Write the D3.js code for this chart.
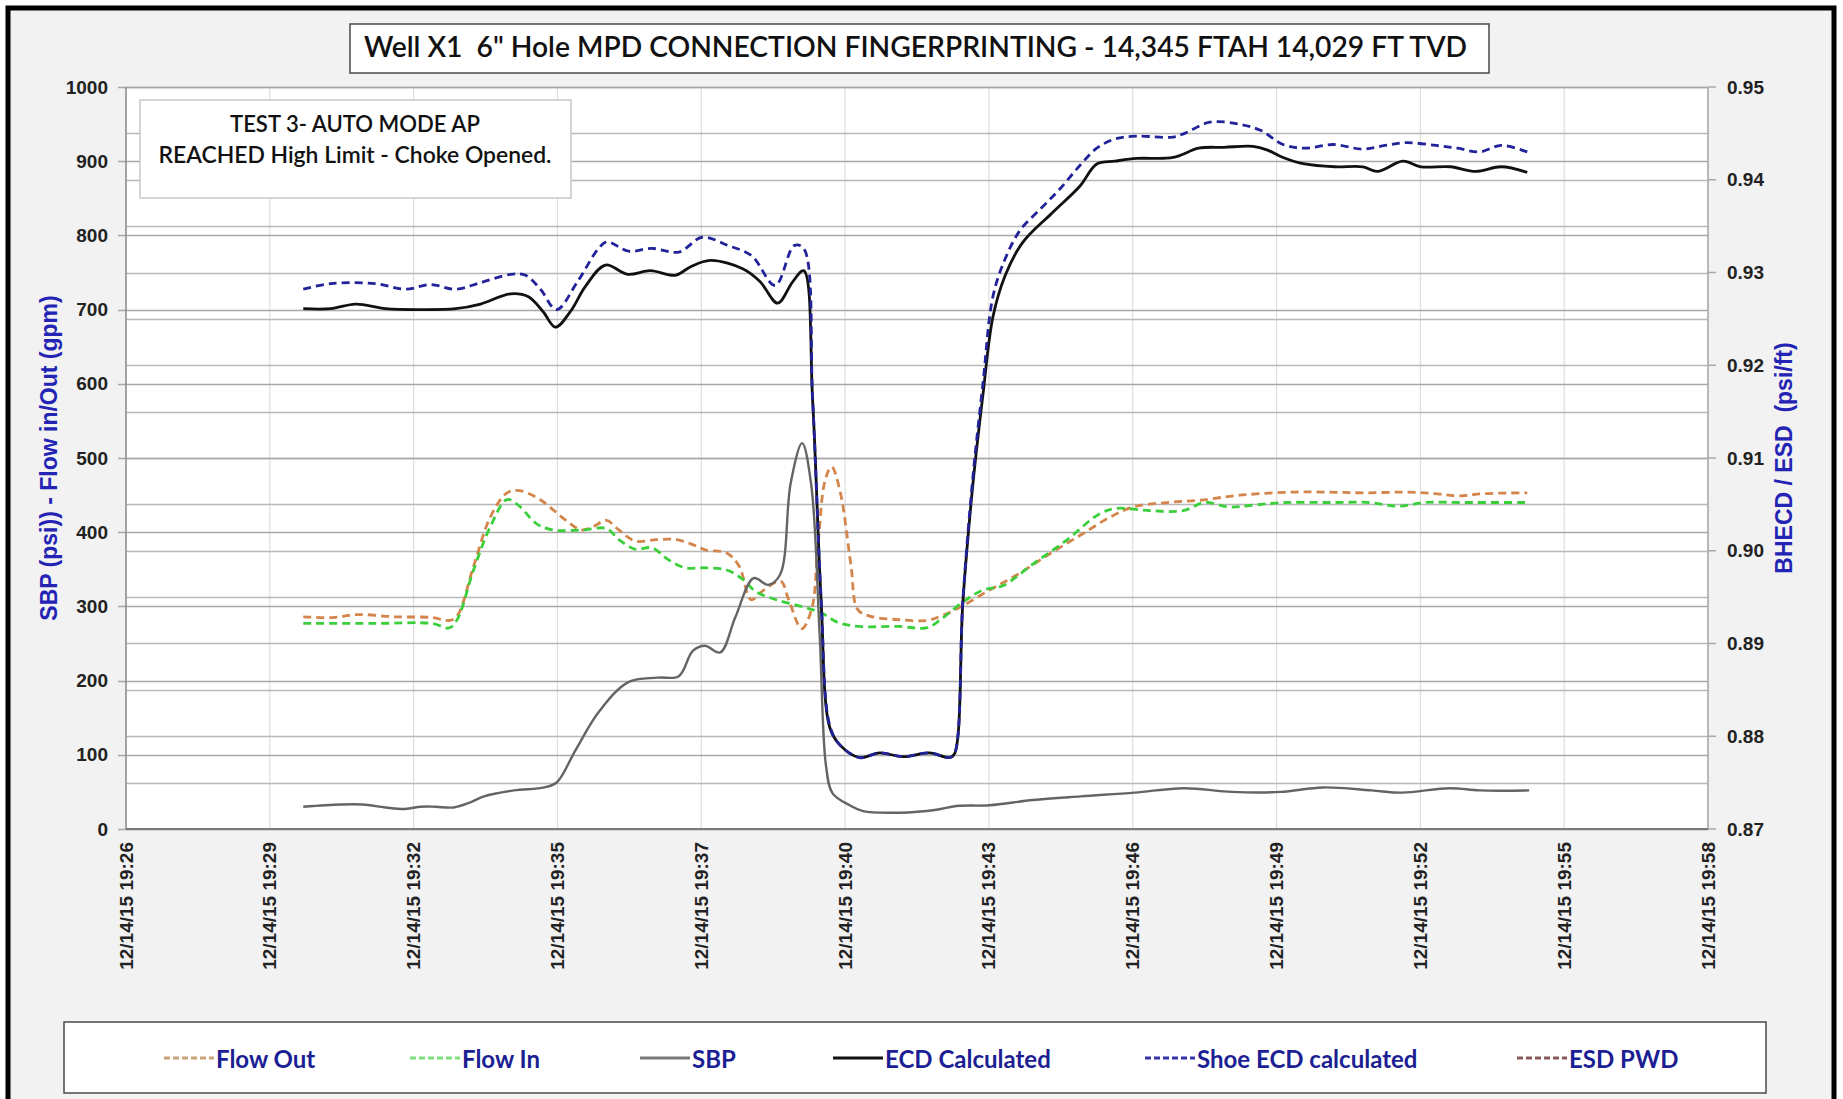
<!DOCTYPE html>
<html>
<head>
<meta charset="utf-8">
<script src="https://cdn.jsdelivr.net/npm/d3@7"></script>
<style>
body { margin: 0; background: #fff; }
</style>
</head>
<body>
<svg id="chart"></svg>
<script>
const width = 1843;
const height = 1099;

// time = minutes after 19:00 on 12/14/15
const day = new Date(2015, 11, 14, 19, 0, 0);
const at = m => new Date(+day + m * 60000);

const flowOut = [
  [29.95, 286], [30.54, 285], [31.04, 289], [31.79, 286], [32.53, 285], [32.87, 281], [33.03, 287],
  [33.36, 354], [33.7, 421], [34.03, 453], [34.28, 456], [34.69, 444], [35.19, 417], [35.52, 403],
  [35.77, 408], [36.02, 416], [36.27, 403], [36.6, 388], [37.02, 390], [37.43, 390], [37.76, 383],
  [38.01, 376], [38.43, 372], [38.68, 354], [38.92, 309], [39.17, 322], [39.51, 334], [39.67, 309],
  [39.93, 270], [40.13, 296], [40.25, 376], [40.4, 470], [40.53, 488], [40.7, 455], [40.92, 354],
  [41.05, 296], [41.29, 287], [41.89, 282], [42.43, 281], [42.76, 288], [43.16, 301], [43.69, 322],
  [44.23, 342], [44.9, 371], [45.56, 398], [46.1, 420], [46.57, 434], [47.24, 440], [47.9, 443],
  [48.57, 449], [48.9, 451], [49.77, 454], [50.5, 454], [51.2, 453], [52.0, 454], [52.6, 452],
  [53.07, 449], [53.6, 452], [54.46, 453]
];

const flowIn = [
  [29.95, 277], [31.37, 277], [32.53, 277], [32.87, 271], [33.03, 282], [33.36, 349], [33.7, 408],
  [34.03, 444], [34.28, 435], [34.61, 412], [34.94, 403], [35.52, 403], [36.02, 405], [36.27, 390],
  [36.6, 377], [36.93, 379], [37.26, 363], [37.6, 352], [38.01, 352], [38.43, 349], [38.76, 336],
  [39.01, 320], [39.42, 309], [39.92, 300], [40.33, 291], [40.67, 278], [41.08, 273], [41.89, 273],
  [42.43, 271], [42.69, 281], [43.16, 306], [43.56, 322], [43.96, 328], [44.56, 357], [45.23, 389],
  [45.9, 425], [46.23, 432], [46.9, 429], [47.57, 429], [48.0, 440], [48.5, 434], [48.9, 436],
  [49.6, 440], [50.5, 440], [51.3, 440], [51.89, 435], [52.4, 440], [53.2, 440], [54.46, 440]
];

const sbp = [
  [29.95, 30], [30.7, 33], [31.14, 33], [31.6, 29], [31.99, 27], [32.3, 30], [32.6, 30], [32.96, 29],
  [33.3, 36], [33.57, 44], [34.17, 52], [34.78, 56], [35.03, 63], [35.4, 106], [35.87, 158],
  [36.46, 198], [37.05, 204], [37.47, 206], [37.75, 240], [37.99, 247], [38.3, 238], [38.6, 285],
  [38.97, 338], [39.26, 329], [39.5, 343], [39.71, 466], [39.94, 520], [40.12, 465], [40.29, 263],
  [40.42, 84], [40.55, 48], [40.89, 32], [41.16, 24], [41.89, 22], [42.63, 26], [43.03, 31],
  [43.69, 32], [44.56, 39], [45.52, 44], [46.6, 49], [47.58, 55], [48.55, 50], [49.52, 50],
  [50.37, 56], [51.34, 52], [51.95, 49], [52.91, 55], [53.51, 52], [54.5, 52]
];

// psi/ft, right axis
const ecdCalc = [
  [29.95, 0.9261], [30.5, 0.9261], [31.0, 0.9266], [31.6, 0.9261], [32.3, 0.9260], [33.0, 0.9261],
  [33.5, 0.9266], [34.1, 0.9277], [34.45, 0.9274], [34.75, 0.9258], [35.0, 0.9241], [35.3, 0.9258],
  [35.6, 0.9285], [36.0, 0.9308], [36.45, 0.9298], [36.9, 0.9302], [37.4, 0.9297], [37.7, 0.9306],
  [38.1, 0.9313], [38.75, 0.9304], [39.1, 0.9290], [39.45, 0.9267], [39.75, 0.9290], [39.97, 0.9302],
  [40.15, 0.9162], [40.32, 0.8946], [40.49, 0.8810], [40.69, 0.8791], [41.09, 0.8777], [41.49, 0.8782],
  [41.96, 0.8778], [42.49, 0.8782], [42.89, 0.8777], [42.99, 0.8781], [43.16, 0.8946], [43.36, 0.9072],
  [43.56, 0.9168], [43.76, 0.9252], [44.0, 0.9296], [44.35, 0.9332], [44.94, 0.9364], [45.5, 0.9393],
  [45.84, 0.9417], [46.2, 0.9420], [46.64, 0.9423], [47.37, 0.9424], [47.88, 0.9434], [48.39, 0.9435],
  [48.97, 0.9436], [49.26, 0.9432], [49.57, 0.9424], [50.0, 0.9417], [50.6, 0.9414], [51.17, 0.9414],
  [51.46, 0.9409], [51.97, 0.9420], [52.33, 0.9414], [52.92, 0.9414], [53.43, 0.9409], [53.94, 0.9414],
  [54.46, 0.9408]
];

const shoeEcd = [
  [29.95, 0.9282], [30.5, 0.9288], [31.4, 0.9288], [32.0, 0.9282], [32.5, 0.9287], [33.0, 0.9282],
  [33.5, 0.9289], [34.1, 0.9298], [34.4, 0.9297], [34.7, 0.9282], [35.02, 0.9260], [35.44, 0.9290],
  [35.85, 0.9325], [36.03, 0.9333], [36.46, 0.9323], [36.93, 0.9326], [37.47, 0.9322], [37.94, 0.9338],
  [38.46, 0.9329], [38.93, 0.9318], [39.4, 0.9286], [39.78, 0.9329], [39.97, 0.9326], [40.15, 0.9164],
  [40.32, 0.8948], [40.49, 0.8812], [40.69, 0.8791], [41.09, 0.8777], [41.49, 0.8782], [41.96, 0.8778],
  [42.49, 0.8782], [42.89, 0.8777], [42.99, 0.8781], [43.16, 0.8948], [43.36, 0.9080], [43.56, 0.9180],
  [43.76, 0.9274], [44.0, 0.9314], [44.31, 0.9346], [44.74, 0.9370], [45.1, 0.9390], [45.48, 0.9414],
  [45.84, 0.9434], [46.21, 0.9444], [46.64, 0.9447], [47.37, 0.9446], [47.6, 0.9450], [48.1, 0.9462],
  [48.69, 0.9460], [49.13, 0.9453], [49.57, 0.9438], [50.0, 0.9434], [50.58, 0.9438], [51.17, 0.9433],
  [51.61, 0.9437], [52.04, 0.9440], [52.63, 0.9437], [53.07, 0.9434], [53.5, 0.9430], [53.94, 0.9437],
  [54.46, 0.9430]
];

const esdPwd = [];

const leftTicks = d3.range(0, 1001, 100);
const rightTicks = [0.87, 0.88, 0.89, 0.90, 0.91, 0.92, 0.93, 0.94, 0.95];
const rightMinor = d3.range(0, 17).map(i => 0.87 + i * 0.005);
// Excel date axis: min 0.81 day, major unit 0.002 day
const xTickMinutes = d3.range(12).map(k => 26.4 + k * 2.88);

const title = "Well X1  6\" Hole MPD CONNECTION FINGERPRINTING - 14,345 FTAH 14,029 FT TVD";
const note = ["TEST 3- AUTO MODE AP", "REACHED High Limit - Choke Opened."];
const leftTitle = "SBP (psi)) - Flow in/Out (gpm)";
const rightTitle = "BHECD / ESD  (psi/ft)";

const series = [
  { name: "Flow Out", data: flowOut, axis: "left", color: "#d3854b", key: "#c9a27a", dash: "8,5", w: 2.8 },
  { name: "Flow In", data: flowIn, axis: "left", color: "#3ccf3c", key: "#7fdc7f", dash: "8,5", w: 2.8 },
  { name: "SBP", data: sbp, axis: "left", color: "#646464", key: "#7a7a7a", dash: null, w: 2.4 },
  { name: "ECD Calculated", data: ecdCalc, axis: "right", color: "#111111", key: "#111111", dash: null, w: 2.8 },
  { name: "Shoe ECD calculated", data: shoeEcd, axis: "right", color: "#22229a", key: "#3434a8", dash: "8,5", w: 2.8 },
  { name: "ESD PWD", data: esdPwd, axis: "right", color: "#8a4b4b", key: "#8a5a5a", dash: "8,5", w: 2.6 }
];

const plot = { left: 126, right: 1708, top: 87, bottom: 829 };
const sans = "'Liberation Sans', Arial, sans-serif";
const narrow = "Lato, 'Open Sans', sans-serif";

const svg = d3.select("#chart")
  .attr("width", width)
  .attr("height", height)
  .attr("font-family", sans);

// chart frame
svg.append("rect")
  .attr("x", 8).attr("y", 8)
  .attr("width", 1826).attr("height", 1200)
  .attr("fill", "#f2f2f2")
  .attr("stroke", "#000").attr("stroke-width", 5);

const x = d3.scaleTime()
  .domain([at(26.4), at(26.4 + 11 * 2.88)])
  .range([plot.left, plot.right]);

const y = d3.scaleLinear().domain([0, 1000]).range([plot.bottom, plot.top]);
const y2 = d3.scaleLinear().domain([0.87, 0.95]).range([plot.bottom, plot.top]);

svg.append("rect")
  .attr("x", plot.left).attr("y", plot.top)
  .attr("width", plot.right - plot.left).attr("height", plot.bottom - plot.top)
  .attr("fill", "#fff");

// vertical grid
svg.append("g").selectAll("line")
  .data(xTickMinutes)
  .join("line")
  .attr("x1", d => x(at(d))).attr("x2", d => x(at(d)))
  .attr("y1", plot.top).attr("y2", plot.bottom)
  .attr("stroke", "#dedede").attr("stroke-width", 1.2);

// horizontal grid: secondary axis (major + minor)
svg.append("g").selectAll("line")
  .data(rightMinor)
  .join("line")
  .attr("x1", plot.left).attr("x2", plot.right)
  .attr("y1", d => Math.round(y2(d)) + 0.5).attr("y2", d => Math.round(y2(d)) + 0.5)
  .attr("stroke", "#b8b8b8").attr("stroke-width", 1.3);

// horizontal grid: primary axis
svg.append("g").selectAll("line")
  .data(leftTicks)
  .join("line")
  .attr("x1", plot.left - 8).attr("x2", plot.right)
  .attr("y1", d => Math.round(y(d)) + 0.5).attr("y2", d => Math.round(y(d)) + 0.5)
  .attr("stroke", "#a8a8a8").attr("stroke-width", 1.5);

// right axis ticks
svg.append("g").selectAll("line")
  .data(rightTicks)
  .join("line")
  .attr("x1", plot.right).attr("x2", plot.right + 8)
  .attr("y1", d => y2(d)).attr("y2", d => y2(d))
  .attr("stroke", "#a8a8a8").attr("stroke-width", 1.5);

// axis lines
svg.append("line")
  .attr("x1", plot.left).attr("x2", plot.left)
  .attr("y1", plot.top).attr("y2", plot.bottom)
  .attr("stroke", "#8c8c8c").attr("stroke-width", 1.5);
svg.append("line")
  .attr("x1", plot.right).attr("x2", plot.right)
  .attr("y1", plot.top).attr("y2", plot.bottom)
  .attr("stroke", "#a8a8a8").attr("stroke-width", 1.5);
svg.append("line")
  .attr("x1", plot.left).attr("x2", plot.right)
  .attr("y1", plot.bottom).attr("y2", plot.bottom)
  .attr("stroke", "#7a7a7a").attr("stroke-width", 2);

// axis labels
svg.append("g").selectAll("text")
  .data(leftTicks)
  .join("text")
  .attr("x", 108).attr("y", d => y(d))
  .attr("text-anchor", "end").attr("dominant-baseline", "central")
  .attr("font-size", 19).attr("font-weight", "bold").attr("fill", "#222")
  .text(d => d);

svg.append("g").selectAll("text")
  .data(rightTicks)
  .join("text")
  .attr("x", 1727).attr("y", d => y2(d))
  .attr("dominant-baseline", "central")
  .attr("font-size", 19).attr("font-weight", "bold").attr("fill", "#222")
  .text(d => d.toFixed(2));

const fmt = d3.timeFormat("%m/%d/%y %H:%M");
svg.append("g").selectAll("text")
  .data(xTickMinutes)
  .join("text")
  .attr("transform", d => `translate(${x(at(d))},842) rotate(-90)`)
  .attr("text-anchor", "end").attr("dominant-baseline", "central")
  .attr("font-size", 19).attr("font-weight", "bold").attr("fill", "#222")
  .text(d => fmt(at(d)));

svg.append("text")
  .attr("transform", `translate(49,${(plot.top + plot.bottom) / 2}) rotate(-90)`)
  .attr("text-anchor", "middle").attr("dominant-baseline", "central")
  .attr("font-size", 23).attr("font-weight", "bold").attr("fill", "#2323b4")
  .style("white-space", "pre")
  .text(leftTitle);

svg.append("text")
  .attr("transform", `translate(1784,${(plot.top + plot.bottom) / 2}) rotate(-90)`)
  .attr("text-anchor", "middle").attr("dominant-baseline", "central")
  .attr("font-size", 23).attr("font-weight", "bold").attr("fill", "#2323b4")
  .style("white-space", "pre")
  .text(rightTitle);

// series
const lineL = d3.line()
  .x(d => x(at(d[0])))
  .y(d => y(d[1]))
  .curve(d3.curveCatmullRom.alpha(0.5));
const lineR = d3.line()
  .x(d => x(at(d[0])))
  .y(d => y2(d[1]))
  .curve(d3.curveCatmullRom.alpha(0.5));

svg.append("g").selectAll("path")
  .data(series.filter(s => s.data.length))
  .join("path")
  .attr("d", s => (s.axis === "left" ? lineL : lineR)(s.data))
  .attr("fill", "none")
  .attr("stroke", s => s.color)
  .attr("stroke-width", s => s.w)
  .attr("stroke-dasharray", s => s.dash)
  .attr("stroke-linejoin", "round");

// title box
svg.append("rect")
  .attr("x", 350).attr("y", 24).attr("width", 1139).attr("height", 49)
  .attr("fill", "#fff").attr("stroke", "#4a4a4a").attr("stroke-width", 1.5);
svg.append("text")
  .attr("x", 364).attr("y", 57)
  .attr("font-family", narrow)
  .attr("font-size", 29).attr("font-weight", 600).attr("fill", "#111")
  .attr("textLength", 1103).attr("lengthAdjust", "spacingAndGlyphs")
  .style("white-space", "pre")
  .text(title);

// note box
svg.append("rect")
  .attr("x", 140).attr("y", 100).attr("width", 431).attr("height", 98)
  .attr("fill", "#fff").attr("stroke", "#c8c8c8").attr("stroke-width", 1.5);
svg.append("g").selectAll("text")
  .data(note)
  .join("text")
  .attr("x", 355).attr("y", (d, i) => 132 + i * 31)
  .attr("text-anchor", "middle")
  .attr("font-family", narrow)
  .attr("font-size", 23).attr("font-weight", 600).attr("fill", "#111")
  .attr("textLength", (d, i) => [250, 393][i]).attr("lengthAdjust", "spacingAndGlyphs")
  .text(d => d);

// legend
const legendX = [164, 410, 640, 833, 1145, 1517];
svg.append("rect")
  .attr("x", 64).attr("y", 1022).attr("width", 1702).attr("height", 71)
  .attr("fill", "#fff").attr("stroke", "#4a4a4a").attr("stroke-width", 1.5);

const item = svg.append("g").selectAll("g")
  .data(series)
  .join("g")
  .attr("transform", (d, i) => `translate(${legendX[i]},1058)`);
item.append("line")
  .attr("x1", 0).attr("x2", 50)
  .attr("stroke", d => d.key).attr("stroke-width", 3)
  .attr("stroke-dasharray", d => d.dash ? "6,3" : null);
item.append("text")
  .attr("x", 52).attr("dominant-baseline", "central")
  .attr("font-family", narrow)
  .attr("font-size", 24).attr("font-weight", "bold").attr("fill", "#1c1f94")
  .text(d => d.name);
</script>
</body>
</html>
